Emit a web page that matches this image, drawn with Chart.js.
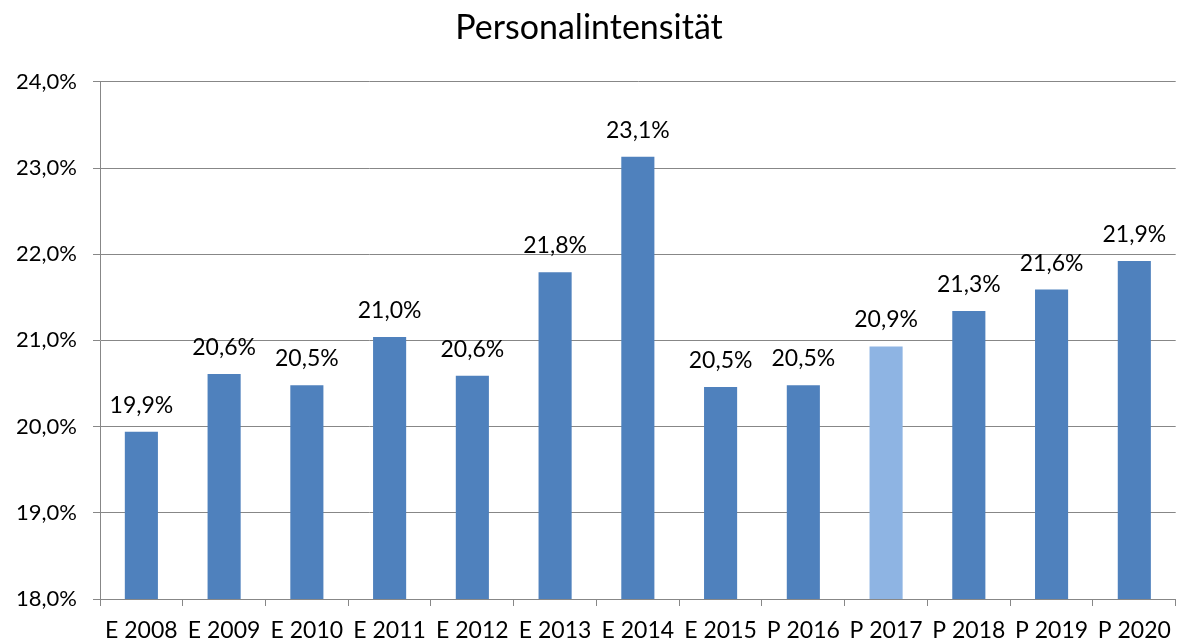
<!DOCTYPE html>
<html>
<head>
<meta charset="utf-8">
<script src="https://cdn.jsdelivr.net/npm/chart.js@4/dist/chart.umd.min.js"></script>
<style>
  body { margin: 0; background: #fff; }
  #chart { display: block; }
</style>
</head>
<body>
<canvas id="chart" width="1182" height="643"></canvas>
<script>
// chart data
const categories = ['E 2008', 'E 2009', 'E 2010', 'E 2011', 'E 2012', 'E 2013', 'E 2014',
                    'E 2015', 'P 2016', 'P 2017', 'P 2018', 'P 2019', 'P 2020'];
const values = [19.94, 20.61, 20.48, 21.04, 20.59, 21.79, 23.13, 20.46, 20.48, 20.93, 21.34, 21.59, 21.92];
const labels = ['19,9%', '20,6%', '20,5%', '21,0%', '20,6%', '21,8%', '23,1%',
                '20,5%', '20,5%', '20,9%', '21,3%', '21,6%', '21,9%'];
const highlight = 'P 2017';

const fontFamily = 'Lato, "Open Sans", sans-serif';
const gridColor = '#878787';

const fmt = v => v.toFixed(1).replace('.', ',') + '%';

// draws the value labels above each bar
const valueLabels = {
  id: 'valueLabels',
  afterDatasetsDraw(chart) {
    const ctx = chart.ctx;
    const meta = chart.getDatasetMeta(0);
    ctx.save();
    ctx.font = '23px ' + fontFamily;
    ctx.fillStyle = '#000';
    ctx.textAlign = 'center';
    ctx.textBaseline = 'alphabetic';
    meta.data.forEach((bar, i) => {
      ctx.fillText(labels[i], bar.x, bar.y - 19);
    });
    ctx.restore();
  }
};

new Chart(document.getElementById('chart'), {
  type: 'bar',
  data: {
    labels: categories,
    datasets: [{
      data: values,
      backgroundColor: categories.map(c => c === highlight ? '#8EB4E3' : '#4F81BD'),
      borderWidth: 0,
      categoryPercentage: 1,
      barPercentage: 0.4
    }]
  },
  options: {
    responsive: false,
    animation: false,
    layout: { padding: { left: 0, right: 4, top: 0, bottom: 0 } },
    plugins: {
      legend: { display: false },
      tooltip: { enabled: false },
      title: {
        display: true,
        text: 'Personalintensität',
        color: '#000',
        font: { family: fontFamily, size: 34, weight: 'normal' },
        padding: { top: 8, bottom: 33 }
      }
    },
    scales: {
      x: {
        grid: {
          offset: true,
          drawOnChartArea: false,
          drawTicks: true,
          tickLength: 7,
          color: gridColor
        },
        border: { color: gridColor, width: 1 },
        ticks: {
          color: '#000',
          font: { family: fontFamily, size: 23 },
          maxRotation: 0,
          autoSkip: false,
          padding: 11
        },
        afterFit(scale) { scale.height = 44; }
      },
      y: {
        min: 18,
        max: 24,
        grid: {
          color: gridColor,
          tickLength: 7,
          drawTicks: true
        },
        border: { color: gridColor, width: 1 },
        ticks: {
          stepSize: 1,
          color: '#000',
          font: { family: fontFamily, size: 22 },
          padding: 16,
          callback: v => fmt(v)
        },
        afterFit(scale) { scale.width = 100; }
      }
    }
  },
  plugins: [valueLabels]
});
</script>
</body>
</html>
